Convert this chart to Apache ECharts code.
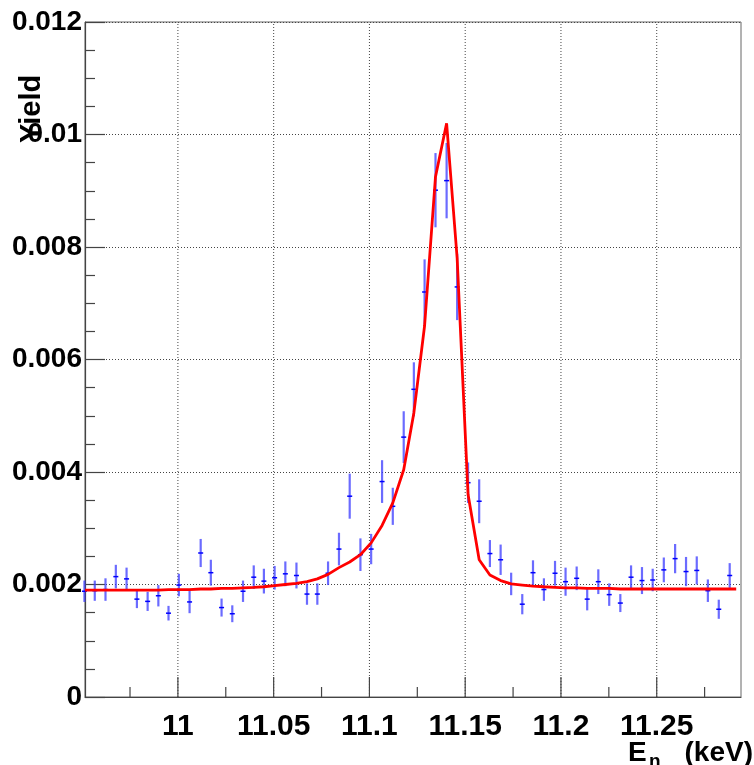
<!DOCTYPE html>
<html><head><meta charset="utf-8">
<script src="https://cdn.jsdelivr.net/npm/echarts@6/dist/echarts.min.js"></script>
<style>html,body{margin:0;padding:0;background:#fff}#c{width:754px;height:765px}</style>
</head><body><div id="c"></div><script>
// Measured data points (neutron energy keV, yield, error)
const energy = [10.9512,10.9566,10.9622,10.9676,10.9732,10.9786,10.9842,10.9898,10.9951,11.0005,
  11.0061,11.0119,11.0172,11.0228,11.0284,11.0340,11.0396,11.0449,11.0505,11.0561,
  11.0619,11.0674,11.0728,11.0784,11.0841,11.0897,11.0953,11.1009,11.1066,11.1122,
  11.1179,11.1232,11.1288,11.1345,11.1403,11.1458,11.1515,11.1573,11.1629,11.1685,
  11.1740,11.1798,11.1854,11.1911,11.1969,11.2024,11.2082,11.2137,11.2195,11.2252,
  11.2310,11.2366,11.2423,11.2479,11.2537,11.2596,11.2653,11.2709,11.2767,11.2824,11.2881];
const yieldVals = [0.00188,0.00189,0.00191,0.00214,0.00210,0.00174,0.00170,0.00180,0.00149,0.00199,
  0.00169,0.00256,0.00221,0.00159,0.00148,0.00188,0.00213,0.00206,0.00212,0.00219,
  0.00216,0.00183,0.00183,0.00220,0.00263,0.00357,0.00253,0.00263,0.00383,0.00339,
  0.00462,0.00547,0.00720,0.00901,0.00918,0.00729,0.00381,0.00348,0.00255,0.00244,
  0.00201,0.00165,0.00221,0.00191,0.00220,0.00205,0.00211,0.00174,0.00205,0.00182,
  0.00167,0.00213,0.00207,0.00208,0.00226,0.00246,0.00223,0.00225,0.00189,0.00156,0.00216];
const yieldErr = [0.00019,0.00018,0.00020,0.00021,0.00020,0.00016,0.00017,0.00019,0.00013,0.00020,
  0.00020,0.00025,0.00023,0.00016,0.00015,0.00019,0.00021,0.00022,0.00021,0.00022,
  0.00023,0.00019,0.00019,0.00021,0.00029,0.00040,0.00029,0.00027,0.00038,0.00033,
  0.00046,0.00048,0.00058,0.00066,0.00067,0.00059,0.00036,0.00039,0.00024,0.00027,
  0.00020,0.00018,0.00022,0.00020,0.00022,0.00025,0.00021,0.00020,0.00022,0.00020,
  0.00016,0.00021,0.00024,0.00020,0.00022,0.00026,0.00026,0.00025,0.00020,0.00017,0.00022];
// Fit curve
const fitEnergy = [10.9515,10.9566,10.9622,10.9676,10.9732,10.9786,10.9842,10.9898,10.9951,11.0005,
  11.0061,11.0119,11.0172,11.0228,11.0284,11.0340,11.0396,11.0449,11.0505,11.0561,
  11.0619,11.0674,11.0728,11.0784,11.0841,11.0897,11.0953,11.1009,11.1066,11.1122,
  11.1179,11.1232,11.1288,11.1345,11.1403,11.1458,11.1515,11.1573,11.1629,11.1685,
  11.1740,11.1798,11.1854,11.1911,11.1969,11.2024,11.2082,11.2137,11.2195,11.2252,
  11.2310,11.2366,11.2423,11.2479,11.2537,11.2596,11.2653,11.2709,11.2767,11.2824,11.2881,11.2915];
const fitYield = [0.00190,0.00190,0.00190,0.00190,0.00190,0.00190,0.00190,0.00190,0.00191,0.00191,
  0.00191,0.00192,0.00192,0.00193,0.00193,0.00194,0.00195,0.00196,0.00198,0.00200,
  0.00202,0.00205,0.00210,0.00218,0.00230,0.00240,0.00253,0.00274,0.00305,0.00345,
  0.00404,0.00505,0.00660,0.00925,0.01020,0.00780,0.00360,0.00244,0.00217,0.00207,
  0.00201,0.00199,0.00197,0.00196,0.00195,0.00194,0.00194,0.00193,0.00193,0.00193,
  0.00192,0.00192,0.00192,0.00192,0.00192,0.00192,0.00192,0.00192,0.00192,0.00192,0.00192,0.00192];
const xTickLabels = [11, 11.05, 11.1, 11.15, 11.2, 11.25];
const xMinorTicks = [10.975, 11.025, 11.075, 11.125, 11.175, 11.225, 11.275];
const yTickLabels = [0, 0.002, 0.004, 0.006, 0.008, 0.01, 0.012];

const X_MIN = 10.9515, X_MAX = 11.294, Y_MIN = 0, Y_MAX = 0.012;
const FONT = 'Liberation Sans';
const chart = echarts.init(document.getElementById('c'));

function tickItem(len, withGrid) {
  return function (params, api) {
    const v = api.value(0);
    const b = api.coord([v, Y_MIN]);
    const t = api.coord([v, Y_MAX]);
    const ch = [{type:'line', shape:{x1:b[0], y1:b[1], x2:b[0], y2:b[1]-len}, style:{stroke:'#444', lineWidth:1.2}}];
    if (withGrid) ch.unshift({type:'line', shape:{x1:b[0], y1:b[1], x2:t[0], y2:t[1]}, style:{stroke:'#444', lineWidth:1, lineDash:[1,2]}});
    return {type:'group', children: ch};
  };
}

chart.setOption({
  animation: false,
  backgroundColor: '#fff',
  grid: {left: 85, right: 13, top: 22, bottom: 68, show: true, borderColor: '#666', borderWidth: 1},
  xAxis: {
    type: 'value', min: X_MIN, max: X_MAX,
    axisLine: {show: true, onZero: false, lineStyle: {color: '#444', width: 1.2}},
    axisTick: {show: false},
    splitLine: {show: false},
    axisLabel: {customValues: xTickLabels, margin: 15, fontFamily: FONT, fontWeight: 'bold', fontSize: 30, color: '#000',
      formatter: v => String(+(+v).toFixed(3))}
  },
  yAxis: {
    type: 'value', min: Y_MIN, max: Y_MAX, interval: 0.002,
    axisLine: {show: true, lineStyle: {color: '#444', width: 1.2}},
    axisTick: {show: true, inside: true, length: 20, lineStyle: {color: '#444', width: 1.2}},
    minorTick: {show: true, splitNumber: 4, length: 10, lineStyle: {color: '#444', width: 1.2}},
    splitLine: {show: true, lineStyle: {color: '#444', width: 1, type: [1, 2]}},
    axisLabel: {margin: 3, fontFamily: FONT, fontWeight: 'bold', fontSize: 28, color: '#000',
      formatter: v => v === 0 ? '0' : String(+v.toFixed(3))}
  },
  graphic: [
    {type:'text', x: 17, y: 143, rotation: Math.PI/2, style:{text:'Yield', fontFamily: FONT, fontWeight:'bold', fontSize: 29, fill:'#000'}},
    {type:'text', left: 628, top: 739, style:{text:'E', fontFamily: FONT, fontWeight:'bold', fontSize: 28, fill:'#000'}},
    {type:'text', left: 649, top: 752, style:{text:'n', fontFamily: FONT, fontWeight:'bold', fontSize: 19, fill:'#000'}},
    {type:'text', right: 1, top: 739, style:{text:'(keV)', fontFamily: FONT, fontWeight:'bold', fontSize: 28, fill:'#000'}}
  ],
  series: [
    {type:'custom', z: 1, silent: true, data: xTickLabels.map(v => [v, 0]), renderItem: tickItem(20, true)},
    {type:'custom', z: 1, silent: true, data: xMinorTicks.map(v => [v, 0]), renderItem: tickItem(10, false)},
    {type:'custom', z: 3, silent: true,
      data: energy.map((e, i) => [e, yieldVals[i], yieldErr[i]]),
      renderItem: function (params, api) {
        const x = api.value(0), y = api.value(1), e = api.value(2);
        const c = api.coord([x, y]), t = api.coord([x, y + e]), b = api.coord([x, y - e]);
        return {type:'group', children:[
          {type:'line', shape:{x1:c[0], y1:t[1], x2:c[0], y2:b[1]}, style:{stroke:'#3a3aff', lineWidth:2.2, opacity:0.75}},
          {type:'line', shape:{x1:c[0]-2.5, y1:c[1], x2:c[0]+2.5, y2:c[1]}, style:{stroke:'#0000ff', lineWidth:1.5}}
        ]};
      }},
    {type:'line', z: 5, silent: true, showSymbol: false, symbol: 'none',
      data: fitEnergy.map((e, i) => [e, fitYield[i]]),
      lineStyle: {color: '#ff0000', width: 2.8}}
  ]
});
</script></body></html>
